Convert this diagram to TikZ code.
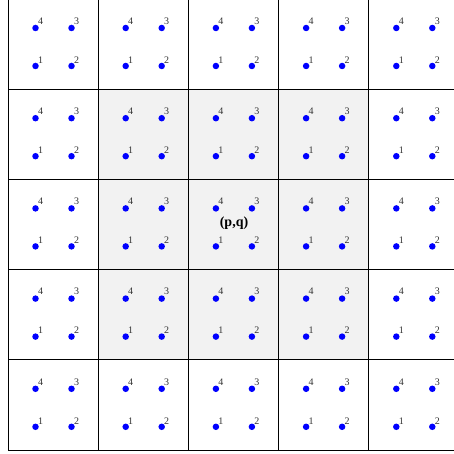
\documentclass[tikz,border=0pt]{standalone}
\usepackage{fontspec}
\setmainfont{Liberation Serif}
\begin{document}
\begin{tikzpicture}[x=1pt,y=-1pt,
  dot/.style={circle,fill=blue,inner sep=0pt,minimum size=6.5pt},
  num/.style={font=\fontsize{10}{10}\selectfont,text=black!80,inner sep=0pt},
  gridline/.style={line width=0.9pt,black}]
\useasboundingbox (0,0) rectangle (454,454);
\fill[black!5] (98.2,89.2) rectangle (368.8,359.8);
\foreach \i in {0,...,5}{
  \draw[gridline] ({8+90.2*\i},-1) -- ({8+90.2*\i},450);
  \draw[gridline] (8,{-1+90.2*\i}) -- (459,{-1+90.2*\i});
}
\foreach \c in {0,...,4}{
  \foreach \r in {0,...,4}{
    \pgfmathsetmacro{\cx}{8+90.2*\c}
    \pgfmathsetmacro{\cy}{-1+90.2*\r}
    \node[dot] (d1-\c-\r) at (\cx+27.5,\cy+67) {};
    \node[dot] (d2-\c-\r) at (\cx+63.5,\cy+67) {};
    \node[dot] (d3-\c-\r) at (\cx+63.5,\cy+29) {};
    \node[dot] (d4-\c-\r) at (\cx+27.5,\cy+29) {};
    \node[num] (n1-\c-\r) at ([shift={(5,-6)}]d1-\c-\r.center) {1};
    \node[num] (n2-\c-\r) at ([shift={(5,-6)}]d2-\c-\r.center) {2};
    \node[num] (n3-\c-\r) at ([shift={(5,-7)}]d3-\c-\r.center) {3};
    \node[num] (n4-\c-\r) at ([shift={(5,-7)}]d4-\c-\r.center) {4};
  }
}
\node[font=\fontsize{14}{14}\selectfont\bfseries,inner sep=0pt] (pq) at (234,223) {(p,q)};
\end{tikzpicture}
\end{document}
